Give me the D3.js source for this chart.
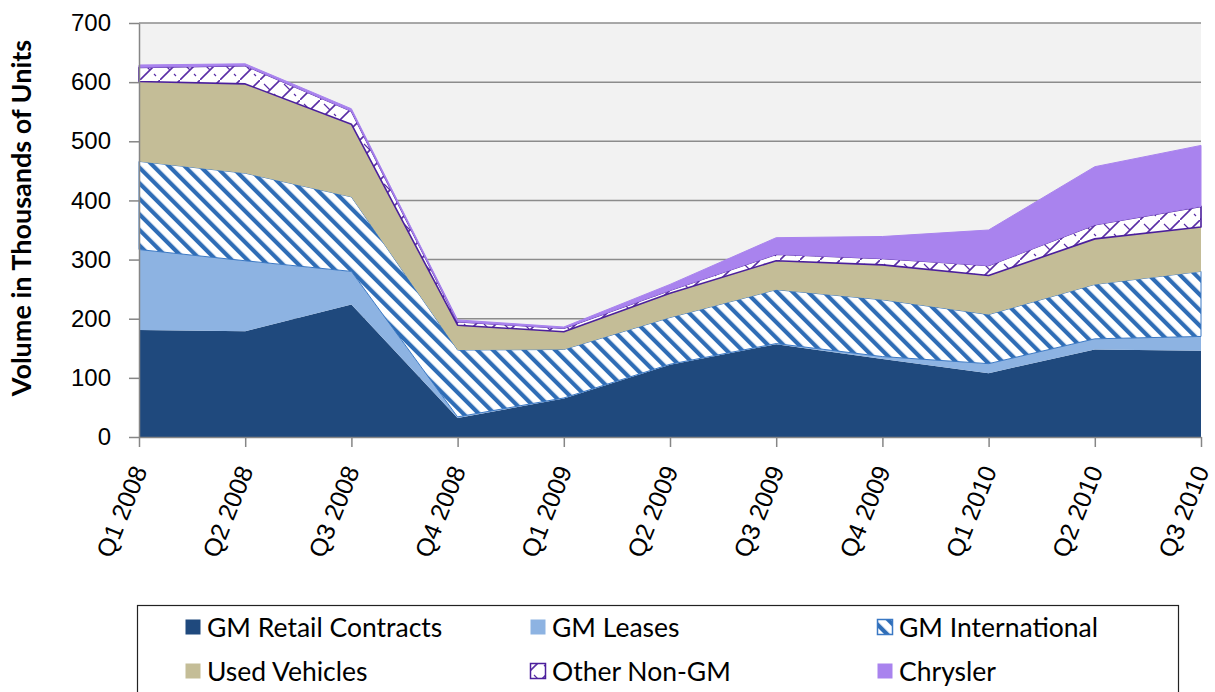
<!DOCTYPE html>
<html>
<head>
<meta charset="utf-8">
<script src="https://cdn.jsdelivr.net/npm/d3@7"></script>
<style>
  body { margin: 0; background: #fff; }
  svg { display: block; font-family: Lato, "Open Sans", sans-serif; }
  .axis path, .axis line { stroke: #868686; stroke-width: 1.5px; }
  .axis text { fill: #000; }
</style>
</head>
<body>
<script>
// data (thousands of units)
var quarters = ["Q1 2008", "Q2 2008", "Q3 2008", "Q4 2008", "Q1 2009", "Q2 2009",
                "Q3 2009", "Q4 2009", "Q1 2010", "Q2 2010", "Q3 2010"];
var retail        = [181, 179, 224, 32, 65, 122, 157, 132, 108, 148, 146];
var leases        = [136, 119, 56, 2, 1, 1, 1, 4, 16, 18, 24];
var international = [149, 148, 126, 113, 82, 79, 91, 96, 83, 92, 110];
var used          = [135, 151, 123, 42, 30, 41, 49, 59, 66, 77, 75];
var otherNonGM    = [24, 31, 22, 6, 6, 5, 11, 11, 17, 24, 35];
var chrysler      = [4, 3, 4, 3, 2, 10, 28, 37, 60, 98, 103];
var yTicks = [0, 100, 200, 300, 400, 500, 600, 700];

var seriesNames = ["GM Retail Contracts", "GM Leases", "GM International",
                   "Used Vehicles", "Other Non-GM", "Chrysler"];
var seriesValues = [retail, leases, international, used, otherNonGM, chrysler];

var width = 1215, height = 692;
var plot = {left: 139, right: 1201, top: 23, bottom: 437};

var svg = d3.select("body").append("svg")
  .attr("width", width)
  .attr("height", height);

var defs = svg.append("defs");

// wide downward diagonal for GM International
var hatch = defs.append("pattern")
  .attr("id", "hatchIntl")
  .attr("patternUnits", "userSpaceOnUse")
  .attr("width", 11).attr("height", 11)
  .attr("patternTransform", "rotate(-45)");
hatch.append("rect").attr("width", 11).attr("height", 11).attr("fill", "#fff");
hatch.append("rect").attr("x", 0).attr("width", 4.2).attr("height", 11).attr("fill", "#2f6db6");

// trellis-ish pattern for Other Non-GM
var trellis = defs.append("pattern")
  .attr("id", "hatchOther")
  .attr("patternUnits", "userSpaceOnUse")
  .attr("width", 20).attr("height", 20);
trellis.append("rect").attr("width", 20).attr("height", 20).attr("fill", "#fff");
trellis.append("path").attr("d", "M-2,22L22,-2").attr("stroke", "#5a2ea6").attr("stroke-width", 1.6);
trellis.append("path").attr("d", "M4,4L10,10M14,14L16,16").attr("stroke", "#5a2ea6").attr("stroke-width", 1.2);

var fills = ["#1f497d", "#8db3e2", "url(#hatchIntl)", "#c4bd97", "url(#hatchOther)", "#a983ee"];
var strokes = ["none", "none", "#3a78c4", "none", "#4b1f9c", "#a983ee"];
var strokeW = [0, 0, 1, 0, 1.6, 1];

var rows = quarters.map(function(q, i) {
  var r = {quarter: q};
  seriesNames.forEach(function(name, k) { r[name] = seriesValues[k][i]; });
  return r;
});

var stack = d3.stack().keys(seriesNames);
var layers = stack(rows);

var x = d3.scalePoint().domain(quarters).range([plot.left, plot.right]);
var y = d3.scaleLinear().domain([0, 700]).range([plot.bottom, plot.top]);

// plot background + gridlines
svg.append("rect")
  .attr("x", plot.left).attr("y", plot.top)
  .attr("width", plot.right - plot.left)
  .attr("height", plot.bottom - plot.top)
  .attr("fill", "#f2f2f2");

svg.append("g").selectAll("line")
  .data(yTicks.slice(1))
  .enter().append("line")
  .attr("x1", plot.left).attr("x2", plot.right)
  .attr("y1", function(d) { return y(d); })
  .attr("y2", function(d) { return y(d); })
  .attr("stroke", "#8c8c8c")
  .attr("stroke-width", 1.5);

var area = d3.area()
  .x(function(d) { return x(d.data.quarter); })
  .y0(function(d) { return y(d[0]); })
  .y1(function(d) { return y(d[1]); });

svg.append("g").selectAll("path")
  .data(layers)
  .enter().append("path")
  .attr("d", area)
  .attr("fill", function(d, i) { return fills[i]; })
  .attr("stroke", function(d, i) { return strokes[i]; })
  .attr("stroke-width", function(d, i) { return strokeW[i]; })
  .attr("stroke-linejoin", "round");

// axes
svg.append("g")
  .attr("class", "axis")
  .attr("transform", "translate(" + plot.left + ",0)")
  .call(d3.axisLeft(y).tickValues(yTicks).tickSize(10).tickPadding(18).tickSizeOuter(0))
  .selectAll("text")
  .style("font-size", "24px");

var xAxis = svg.append("g")
  .attr("class", "axis")
  .attr("transform", "translate(0," + plot.bottom + ")")
  .call(d3.axisBottom(x).tickSize(10).tickSizeOuter(0));

xAxis.selectAll("text")
  .style("font-size", "25px")
  .style("text-anchor", "end")
  .attr("x", 0).attr("y", 0).attr("dy", "0.35em")
  .attr("transform", "translate(0,30) rotate(-68)");

// y title
svg.append("text")
  .attr("transform", "translate(31,218) rotate(-90)")
  .attr("text-anchor", "middle")
  .style("font-size", "27px")
  .style("font-weight", "bold")
  .text("Volume in Thousands of Units");

// legend
var legend = svg.append("g");
legend.append("rect")
  .attr("x", 137.5).attr("y", 605.5)
  .attr("width", 1041).attr("height", 100)
  .attr("fill", "#fff")
  .attr("stroke", "#222")
  .attr("stroke-width", 1.2);

var colX = [185, 530, 877];
var rowY = [627, 671];

var item = legend.selectAll(".item")
  .data(seriesNames)
  .enter().append("g")
  .attr("transform", function(d, i) {
    return "translate(" + colX[i % 3] + "," + rowY[Math.floor(i / 3)] + ")";
  });

item.append("rect")
  .attr("x", 0.5).attr("y", -7.5)
  .attr("width", 15).attr("height", 15)
  .attr("fill", function(d, i) { return fills[i]; })
  .attr("stroke", function(d, i) { return i == 2 ? "#3a78c4" : i == 4 ? "#4b1f9c" : "none"; })
  .attr("stroke-width", 1.5);

item.append("text")
  .attr("x", 22).attr("dy", "0.36em")
  .style("font-size", "26.5px")
  .text(function(d) { return d; });
</script>
</body>
</html>
